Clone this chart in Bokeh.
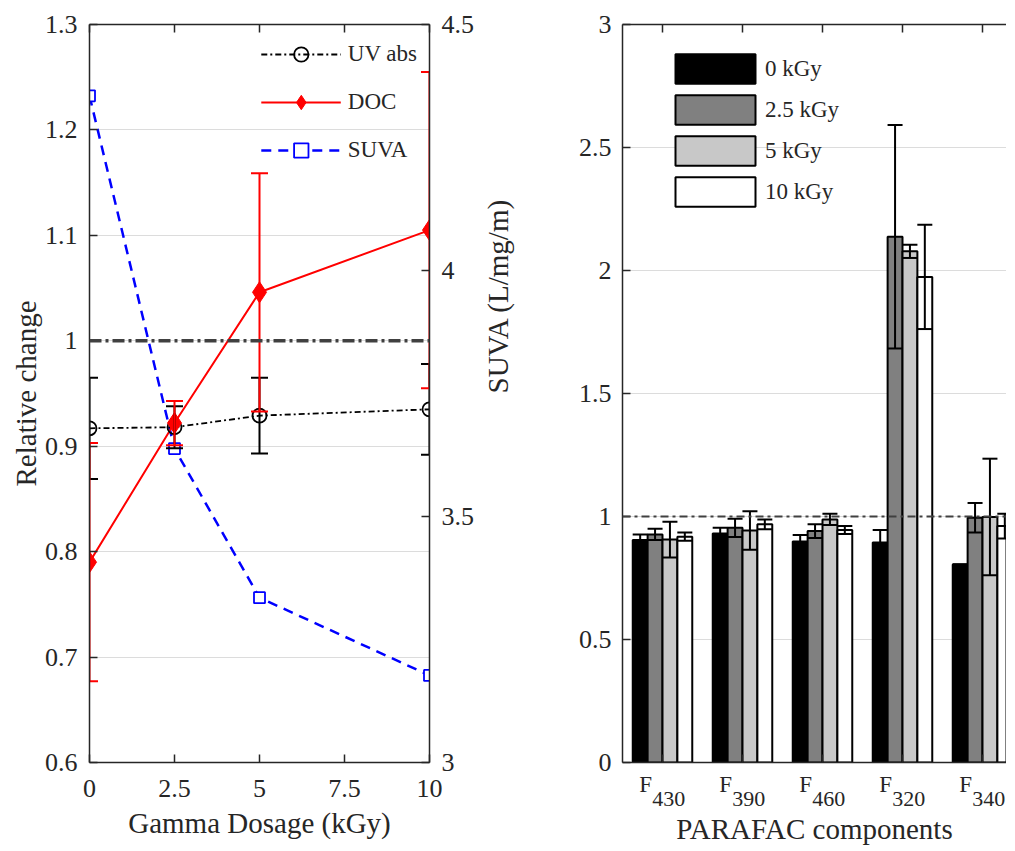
import math
from bokeh.plotting import figure
from bokeh.models import (Range1d, LinearAxis, FixedTicker, PrintfTickFormatter, Whisker, TeeHead,
                          ColumnDataSource, Legend, LegendItem, Span, CustomJSTickFormatter)
from bokeh.layouts import row
from bokeh.transform import dodge
from bokeh.embed import file_html
from bokeh.resources import INLINE

FONT = "Liberation Serif"
AX = "#262626"

# ---------------- data: left panel ----------------
dose = [0, 2.5, 5, 10]
uv_abs = [0.917, 0.918, 0.929, 0.935]
uv_err = [0.048, 0.020, 0.036, 0.043]
doc = [0.790, 0.922, 1.046, 1.105]
doc_err = [0.113, 0.021, 0.113, 0.150]
suva = [4.355, 3.638, 3.335, 3.177]
left_ticks = [0.6, 0.7, 0.8, 0.9, 1.0, 1.1, 1.2, 1.3]
suva_ticks = [3, 3.5, 4, 4.5]
dose_ticks = [0, 2.5, 5, 7.5, 10]

# ---------------- data: right panel ----------------
components = ["430", "390", "460", "320", "340"]
comp_pos = [1, 2, 3, 4, 5]
dose_labels = ["0 kGy", "2.5 kGy", "5 kGy", "10 kGy"]
bar_0 = [0.904, 0.931, 0.898, 0.894, 0.805]
err_0 = [0.023, 0.023, 0.027, 0.051, 0.0]
bar_25 = [0.927, 0.954, 0.941, 2.137, 0.995]
err_25 = [0.023, 0.037, 0.028, 0.454, 0.060]
bar_5 = [0.906, 0.943, 0.988, 2.078, 0.998]
err_5 = [0.073, 0.078, 0.023, 0.027, 0.237]
bar_10 = [0.918, 0.968, 0.945, 1.974, 0.961]
err_10 = [0.017, 0.020, 0.016, 0.212, 0.050]
right_ticks = [0, 0.5, 1, 1.5, 2, 2.5, 3]

H = 849
TOP = 24
BOTTOM = 87


def style_axis(ax, size="26px", standoff=12):
    ax.axis_line_color = AX
    ax.axis_line_width = 1.5
    ax.major_tick_line_color = AX
    ax.major_tick_line_width = 1.5
    ax.major_tick_in = 8
    ax.major_tick_out = 0
    ax.minor_tick_line_color = None
    ax.major_label_text_font = FONT
    ax.major_label_text_font_size = size
    ax.major_label_text_color = AX
    ax.major_label_standoff = standoff
    ax.axis_label_text_font = FONT
    ax.axis_label_text_font_size = "29px"
    ax.axis_label_text_font_style = "normal"
    ax.axis_label_text_color = AX


def hidden_labels(ax):
    ax.major_label_text_font_size = "1px"
    ax.major_label_text_color = None
    ax.major_label_standoff = 0


def bare_axis(ax):
    ax.axis_line_color = None
    ax.major_tick_line_color = None
    ax.minor_tick_line_color = None


fmt = PrintfTickFormatter(format="%g")

# ================= LEFT FIGURE =================
p1 = figure(width=541, height=H, x_range=Range1d(0, 10), y_range=Range1d(0.6, 1.3),
            output_backend="svg", toolbar_location=None,
            min_border_left=89, min_border_right=112, min_border_top=TOP, min_border_bottom=BOTTOM)
p1.extra_y_ranges = {"suva": Range1d(3, 4.5)}
p1.outline_line_color = None

p1.xaxis.ticker = FixedTicker(ticks=dose_ticks)
p1.xaxis.formatter = fmt
p1.xaxis.axis_label = "Gamma Dosage (kGy)"
style_axis(p1.xaxis[0], standoff=17)
p1.xaxis.axis_label_standoff = 7

p1.yaxis.ticker = FixedTicker(ticks=left_ticks)
p1.yaxis.formatter = fmt
p1.yaxis.axis_label = "Relative change"
style_axis(p1.yaxis[0], standoff=12)
p1.yaxis.axis_label_standoff = 0

ax_r = LinearAxis(y_range_name="suva", ticker=FixedTicker(ticks=suva_ticks), formatter=fmt,
                  axis_label="SUVA (L/mg/m)")
style_axis(ax_r, standoff=12)
ax_r.axis_label_standoff = 21
try:
    ax_r.axis_label_orientation = math.pi / 2
except Exception:
    pass
p1.add_layout(ax_r, "right")

ax_t = LinearAxis(ticker=FixedTicker(ticks=dose_ticks))
style_axis(ax_t)
hidden_labels(ax_t)
p1.add_layout(ax_t, "above")

p1.xgrid.grid_line_color = None
p1.ygrid.ticker = FixedTicker(ticks=left_ticks)
p1.ygrid.grid_line_color = "#dcdcdc"
p1.ygrid.grid_line_width = 1

src1 = ColumnDataSource(dict(
    dose=dose, uv=uv_abs, doc=doc, suva=suva,
    uv_lo=[v - e for v, e in zip(uv_abs, uv_err)], uv_hi=[v + e for v, e in zip(uv_abs, uv_err)],
    doc_lo=[v - e for v, e in zip(doc, doc_err)], doc_hi=[v + e for v, e in zip(doc, doc_err)],
))

p1.add_layout(Span(location=1.0, dimension="width", line_color="#404040", line_width=3.5,
                   line_dash="12 4 3 4"))

suva_line = p1.line("dose", "suva", source=src1, y_range_name="suva", line_color="#0000ff",
                    line_width=2.5, line_dash="10 7")
suva_pts = p1.scatter("dose", "suva", source=src1, y_range_name="suva", marker="square", size=11,
                      line_color="#0000ff", line_width=1.8, fill_color="white")

uv_line = p1.line("dose", "uv", source=src1, line_color="black", line_width=1.8, line_dash="6 3 2 3")
doc_line = p1.line("dose", "doc", source=src1, line_color="#ff0000", line_width=2)

p1.add_layout(Whisker(source=src1, base="dose", lower="uv_lo", upper="uv_hi", line_color="black",
                      line_width=2, level="glyph",
                      lower_head=TeeHead(size=17, line_color="black", line_width=2),
                      upper_head=TeeHead(size=17, line_color="black", line_width=2)))
p1.add_layout(Whisker(source=src1, base="dose", lower="doc_lo", upper="doc_hi", line_color="#ff0000",
                      line_width=2, level="glyph",
                      lower_head=TeeHead(size=17, line_color="#ff0000", line_width=2),
                      upper_head=TeeHead(size=17, line_color="#ff0000", line_width=2)))

uv_pts = p1.scatter("dose", "uv", source=src1, marker="circle", size=14, line_color="black",
                    line_width=1.8, fill_color=None)
doc_pts = p1.scatter("dose", "doc", source=src1, marker="diamond", size=21, line_color="#ff0000",
                     fill_color="#ff0000")

leg1 = Legend(items=[
    LegendItem(label="UV abs", renderers=[uv_line, uv_pts]),
    LegendItem(label="DOC", renderers=[doc_line, doc_pts]),
    LegendItem(label="SUVA", renderers=[suva_line, suva_pts]),
], location="top_right", glyph_width=80, glyph_height=36, spacing=12, padding=0, margin=12,
    label_standoff=7, label_text_font=FONT, label_text_font_size="23px", label_text_color=AX,
    border_line_color=None, background_fill_alpha=0)
p1.add_layout(leg1)

# ================= RIGHT FIGURE =================
p2 = figure(width=465, height=H, x_range=Range1d(0.5, 5.3), y_range=Range1d(0, 3),
            output_backend="svg", toolbar_location=None,
            min_border_left=81, min_border_right=0, min_border_top=TOP, min_border_bottom=BOTTOM)
p2.outline_line_color = None

p2.yaxis.ticker = FixedTicker(ticks=right_ticks)
p2.yaxis.formatter = fmt
style_axis(p2.yaxis[0], standoff=11)

p2.xaxis.ticker = FixedTicker(ticks=comp_pos)
style_axis(p2.xaxis[0])
hidden_labels(p2.xaxis[0])

# "F" part of the category labels
ax_f = LinearAxis(ticker=FixedTicker(ticks=[c - 0.21 for c in comp_pos]),
                  formatter=CustomJSTickFormatter(code="return 'F'"))
style_axis(ax_f, size="23px", standoff=9)
bare_axis(ax_f)
p2.add_layout(ax_f, "below")

# subscript part of the category labels + axis title
ax_s = LinearAxis(ticker=FixedTicker(ticks=[c + 0.077 for c in comp_pos]),
                  formatter=CustomJSTickFormatter(args=dict(labels=components),
                                                  code="return labels[index]"),
                  axis_label="PARAFAC components")
style_axis(ax_s, size="22px", standoff=-8)
bare_axis(ax_s)
ax_s.axis_label_standoff = 4
p2.add_layout(ax_s, "below")

ax_t2 = LinearAxis(ticker=FixedTicker(ticks=comp_pos))
style_axis(ax_t2)
hidden_labels(ax_t2)
p2.add_layout(ax_t2, "above")

p2.xgrid.grid_line_color = None
p2.ygrid.ticker = FixedTicker(ticks=right_ticks)
p2.ygrid.grid_line_color = "#dcdcdc"

src2 = ColumnDataSource(dict(pos=comp_pos, b0=bar_0, b25=bar_25, b5=bar_5, b10=bar_10))
series = [("b0", bar_0, err_0, "black", -0.279),
          ("b25", bar_25, err_25, "#808080", -0.093),
          ("b5", bar_5, err_5, "#c8c8c8", 0.093),
          ("b10", bar_10, err_10, "white", 0.279)]
bar_rs = []
for key, vals, errs, col, off in series:
    src2.data[key + "_lo"] = [v - e for v, e in zip(vals, errs)]
    src2.data[key + "_hi"] = [v + e for v, e in zip(vals, errs)]
    r = p2.vbar(x=dodge("pos", off), top=key, width=0.186, source=src2, fill_color=col,
                line_color="black", line_width=2)
    bar_rs.append(r)
for key, vals, errs, col, off in series:
    p2.add_layout(Whisker(source=src2, base=dodge("pos", off), lower=key + "_lo", upper=key + "_hi",
                          line_color="black", line_width=2, level="glyph",
                          lower_head=TeeHead(size=15, line_color="black", line_width=2),
                          upper_head=TeeHead(size=15, line_color="black", line_width=2)))

p2.add_layout(Span(location=1.0, dimension="width", line_color="#404040", line_width=2,
                   line_dash="8 4 3 4"))

leg2 = Legend(items=[LegendItem(label=lab, renderers=[r]) for lab, r in zip(dose_labels, bar_rs)],
              location=(43, 552), glyph_width=100, glyph_height=37, spacing=4, padding=0,
              margin=0, label_standoff=0, label_text_font=FONT, label_text_font_size="23px",
              label_text_color=AX, border_line_color=None, background_fill_alpha=0)
p2.add_layout(leg2)

layout = row(p1, p2, spacing=0)
open("out.html", "w").write(file_html(layout, INLINE))
